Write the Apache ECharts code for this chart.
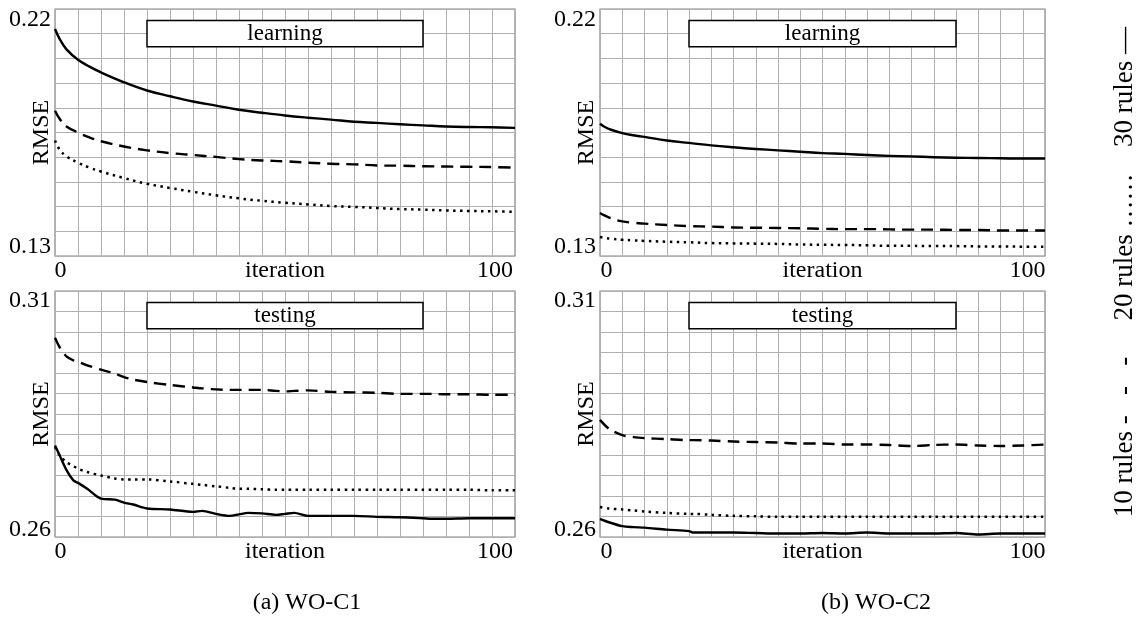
<!DOCTYPE html>
<html>
<head>
<meta charset="utf-8">
<script src="https://cdn.jsdelivr.net/npm/echarts@6/dist/echarts.min.js"></script>
<style>
  html, body { margin: 0; padding: 0; background: #ffffff; }
  #chart { width: 1139px; height: 622px; }
</style>
</head>
<body>
<div id="chart"></div>
<script>
// ---- data -------------------------------------------------------------
const seriesNames = ['10 rules', '20 rules', '30 rules'];
const legendMarks = ['-   -   -', '……', '—'];
const panelTitles = ['learning', 'learning', 'testing', 'testing'];
const captions = ['(a) WO-C1', '(b) WO-C2'];
const learnRange = [0.13, 0.22];
const testRange = [0.26, 0.31];
const iterRange = [0, 100];

// learning RMSE, WO-C1
const learnC1Iter = [0, 1, 2.5, 5, 7.5, 10, 15, 20, 25, 30, 35, 40, 45, 50, 55, 60, 65, 70, 75, 80, 85, 90, 95, 100];
const learnC1Rules10 = [0.1829, 0.1800, 0.1772, 0.1750, 0.1732, 0.1718, 0.1699, 0.1685, 0.1675, 0.1668, 0.1661, 0.1653, 0.1648, 0.1645, 0.1640, 0.1636, 0.1634, 0.1630, 0.1629, 0.1627, 0.1626, 0.1625, 0.1624, 0.1622];
const learnC1Rules20 = [0.1721, 0.1688, 0.1663, 0.1640, 0.1622, 0.1608, 0.1584, 0.1563, 0.1548, 0.1534, 0.1521, 0.1510, 0.1501, 0.1494, 0.1488, 0.1482, 0.1479, 0.1475, 0.1471, 0.1469, 0.1466, 0.1464, 0.1463, 0.1461];
const learnC1Rules30 = [0.2127, 0.2091, 0.2053, 0.2015, 0.1990, 0.1969, 0.1933, 0.1903, 0.1882, 0.1863, 0.1848, 0.1833, 0.1822, 0.1812, 0.1804, 0.1797, 0.1789, 0.1785, 0.1780, 0.1776, 0.1772, 0.1770, 0.1769, 0.1767];

// learning RMSE, WO-C2
const learnC2Iter = [0, 1, 2.5, 5, 7.5, 10, 15, 20, 25, 30, 35, 40, 45, 50, 55, 60, 65, 70, 75, 80, 85, 90, 95, 100];
const learnC2Rules10 = [0.1457, 0.1448, 0.1437, 0.1426, 0.1421, 0.1418, 0.1413, 0.1409, 0.1407, 0.1404, 0.1403, 0.1402, 0.1401, 0.1399, 0.1398, 0.1398, 0.1397, 0.1396, 0.1396, 0.1395, 0.1395, 0.1393, 0.1393, 0.1393];
const learnC2Rules20 = [0.1369, 0.1366, 0.1363, 0.1359, 0.1357, 0.1355, 0.1352, 0.1350, 0.1347, 0.1346, 0.1345, 0.1344, 0.1342, 0.1341, 0.1340, 0.1339, 0.1337, 0.1337, 0.1336, 0.1336, 0.1335, 0.1335, 0.1334, 0.1334];
const learnC2Rules30 = [0.1782, 0.1771, 0.1760, 0.1748, 0.1740, 0.1734, 0.1721, 0.1712, 0.1703, 0.1696, 0.1690, 0.1685, 0.1680, 0.1675, 0.1672, 0.1668, 0.1665, 0.1663, 0.1660, 0.1658, 0.1657, 0.1656, 0.1655, 0.1655];

// testing RMSE, WO-C1
const testC1Iter = [0, 1, 2.5, 4, 5, 7, 10, 13, 15, 17, 20, 25, 30, 32, 35, 38, 40, 42, 45, 48, 50, 52, 55, 60, 65, 70, 75, 80, 82, 85, 90, 95, 100];
const testC1Rules10 = [0.3005, 0.2986, 0.2967, 0.2959, 0.2956, 0.2949, 0.2940, 0.2932, 0.2925, 0.2920, 0.2915, 0.2909, 0.2904, 0.2902, 0.2900, 0.2899, 0.2899, 0.2899, 0.2899, 0.2897, 0.2896, 0.2897, 0.2898, 0.2895, 0.2894, 0.2893, 0.2891, 0.2891, 0.2891, 0.2890, 0.2890, 0.2889, 0.2889];
const testC1Rules20 = [0.2783, 0.2766, 0.2752, 0.2744, 0.2739, 0.2732, 0.2725, 0.2719, 0.2717, 0.2717, 0.2717, 0.2713, 0.2708, 0.2706, 0.2703, 0.2700, 0.2698, 0.2698, 0.2697, 0.2696, 0.2696, 0.2696, 0.2696, 0.2696, 0.2696, 0.2696, 0.2696, 0.2696, 0.2696, 0.2696, 0.2696, 0.2695, 0.2695];
const testC1Rules30 = [0.2786, 0.2766, 0.2736, 0.2715, 0.2710, 0.2698, 0.2678, 0.2676, 0.2670, 0.2666, 0.2658, 0.2656, 0.2651, 0.2653, 0.2647, 0.2643, 0.2646, 0.2649, 0.2648, 0.2645, 0.2647, 0.2649, 0.2643, 0.2643, 0.2643, 0.2641, 0.2640, 0.2638, 0.2637, 0.2637, 0.2638, 0.2638, 0.2638];

// testing RMSE, WO-C2
const testC2Iter = [0, 2, 5, 7.5, 10, 15, 20, 21, 25, 30, 35, 40, 45, 50, 55, 60, 65, 70, 75, 80, 85, 90, 95, 100];
const testC2Rules10 = [0.2838, 0.2820, 0.2807, 0.2803, 0.2801, 0.2799, 0.2797, 0.2797, 0.2796, 0.2794, 0.2793, 0.2792, 0.2790, 0.2790, 0.2788, 0.2788, 0.2787, 0.2785, 0.2787, 0.2788, 0.2786, 0.2785, 0.2786, 0.2788];
const testC2Rules20 = [0.2661, 0.2658, 0.2656, 0.2654, 0.2652, 0.2649, 0.2647, 0.2647, 0.2645, 0.2643, 0.2642, 0.2641, 0.2641, 0.2641, 0.2641, 0.2641, 0.2641, 0.2641, 0.2641, 0.2641, 0.2641, 0.2641, 0.2641, 0.2641];
const testC2Rules30 = [0.2637, 0.2630, 0.2622, 0.2620, 0.2619, 0.2615, 0.2612, 0.2609, 0.2609, 0.2609, 0.2608, 0.2607, 0.2607, 0.2608, 0.2607, 0.2609, 0.2607, 0.2607, 0.2607, 0.2608, 0.2605, 0.2607, 0.2607, 0.2607];

// ---- layout & style ---------------------------------------------------
const FONT = 'Liberation Serif';
const panels = [
  { grid: { left: 55, top: 9, width: 460, height: 247 }, range: learnRange, rows: 10, iter: learnC1Iter, smooth: 0.4,
    values: [learnC1Rules10, learnC1Rules20, learnC1Rules30], pad: { top: 22, bottom: 18, l: 11, r: 40 } },
  { grid: { left: 600, top: 9, width: 445, height: 247 }, range: learnRange, rows: 10, iter: learnC2Iter, smooth: 0.4,
    values: [learnC2Rules10, learnC2Rules20, learnC2Rules30], pad: { top: 22, bottom: 18, l: 13, r: 35 } },
  { grid: { left: 55, top: 291, width: 460, height: 246 }, range: testRange, rows: 12, iter: testC1Iter, smooth: 0.3,
    values: [testC1Rules10, testC1Rules20, testC1Rules30], pad: { top: 20, bottom: 14, l: 11, r: 40 } },
  { grid: { left: 600, top: 291, width: 445, height: 246 }, range: testRange, rows: 12, iter: testC2Iter, smooth: 0.3,
    values: [testC2Rules10, testC2Rules20, testC2Rules30], pad: { top: 20, bottom: 14, l: 13, r: 35 } }
];

const lineStyles = [
  { color: '#000', width: 2.4, type: [12, 7] },
  { color: '#000', width: 2.5, type: [2.5, 4.5] },
  { color: '#000', width: 2.4, type: 'solid' }
];

const near = (a, b) => Math.abs(a - b) < 1e-9;
const textBase = { fontFamily: FONT, fontSize: 24, color: '#000' };

const grids = [], xAxes = [], yAxes = [], series = [];

panels.forEach((p, i) => {
  grids.push(Object.assign({
    show: true, borderColor: '#858585', borderWidth: 1.2, backgroundColor: 'transparent',
    outerBoundsMode: 'none', containLabel: false
  }, p.grid));

  xAxes.push({
    type: 'value', gridIndex: i, min: iterRange[0], max: iterRange[1], interval: 5,
    name: 'iteration', nameLocation: 'middle', nameGap: 3, nameMoveOverlap: false,
    nameTextStyle: Object.assign({ verticalAlign: 'top' }, textBase),
    axisLine: { show: false }, axisTick: { show: false },
    splitLine: { show: true, lineStyle: { color: '#b0b0b0', width: 1 } },
    axisLabel: {
      margin: 3, showMinLabel: true, showMaxLabel: true, hideOverlap: false,
      formatter: v => near(v, iterRange[0]) ? '{l|' + v + '}' : near(v, iterRange[1]) ? '{r|' + v + '}' : '',
      rich: {
        l: Object.assign({ padding: [0, 0, 0, p.pad.l] }, textBase),
        r: Object.assign({ padding: [0, p.pad.r, 0, 0] }, textBase)
      }
    }
  });

  const [lo, hi] = p.range;
  // data axis: value scale, min / max labels and the axis title
  yAxes.push({
    type: 'value', gridIndex: i, min: lo, max: hi, position: 'left',
    name: 'RMSE', nameLocation: 'middle', nameGap: 1, nameMoveOverlap: false,
    nameTextStyle: textBase,
    axisLine: { show: false }, axisTick: { show: false }, splitLine: { show: false },
    axisLabel: {
      margin: 4, showMinLabel: true, showMaxLabel: true, hideOverlap: false,
      formatter: v => near(v, hi) ? '{t|' + v.toFixed(2) + '}' : near(v, lo) ? '{b|' + v.toFixed(2) + '}' : '',
      rich: {
        t: Object.assign({ padding: [p.pad.top, 0, 0, 0] }, textBase),
        b: Object.assign({ padding: [0, 0, p.pad.bottom, 0] }, textBase)
      }
    }
  });
  // grid rows: even split of the value range
  yAxes.push({
    type: 'value', gridIndex: i, min: 0, max: p.rows, interval: 1, position: 'right',
    axisLine: { show: false }, axisTick: { show: false }, axisLabel: { show: false },
    splitLine: { show: true, lineStyle: { color: '#b0b0b0', width: 1 } }
  });
  const yIndex = yAxes.length - 2;

  seriesNames.forEach((name, k) => {
    const s = {
      type: 'line', name: name, xAxisIndex: i, yAxisIndex: yIndex,
      data: p.iter.map((x, j) => [x, p.values[k][j]]),
      showSymbol: false, smooth: p.smooth,
      lineStyle: Object.assign({ cap: 'butt', join: 'round' }, lineStyles[k]),
      silent: true, z: 3
    };
    if (k === 2) {
      const span = hi - lo;
      s.markArea = {
        silent: true,
        itemStyle: { color: '#ffffff', borderColor: '#000000', borderWidth: 1.5 },
        label: { show: true, position: 'inside', fontSize: 23, fontFamily: FONT, color: '#000' },
        data: [[
          { name: panelTitles[i], coord: [20, hi - 0.047 * span] },
          { coord: [80, hi - 0.153 * span] }
        ]]
      };
    }
    series.push(s);
  });
});

// rotated legend on the right, read bottom to top
const legendCenters = [437, 247, 87];
const graphics = seriesNames.map((name, k) => ({
  type: 'text', x: 1125, y: legendCenters[k], rotation: Math.PI / 2,
  style: { text: name + ' ' + legendMarks[k], font: '27px "' + FONT + '"', fill: '#000', align: 'center', verticalAlign: 'middle' }
}));
const captionCenters = [307, 876];
captions.forEach((c, k) => graphics.push({
  type: 'text', x: captionCenters[k], y: 603,
  style: { text: c, font: '24px "' + FONT + '"', fill: '#000', align: 'center', verticalAlign: 'middle' }
}));

const chart = echarts.init(document.getElementById('chart'), null, { renderer: 'canvas' });
chart.setOption({
  animation: false,
  backgroundColor: '#ffffff',
  grid: grids,
  xAxis: xAxes,
  yAxis: yAxes,
  series: series,
  graphic: graphics
});
</script>
</body>
</html>
